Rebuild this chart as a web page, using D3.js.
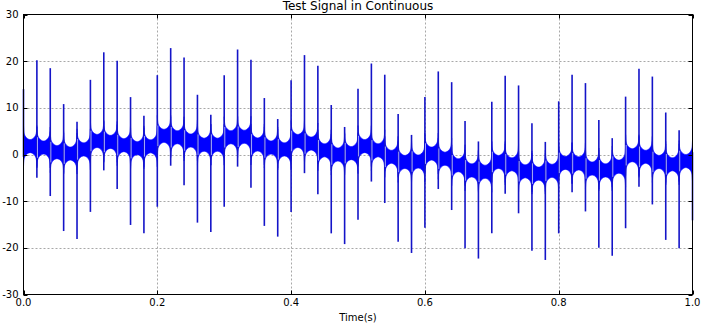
<!DOCTYPE html>
<html>
<head>
<meta charset="utf-8">
<script src="https://cdn.jsdelivr.net/npm/d3@7"></script>
<style>
  html, body { margin: 0; padding: 0; background: #fff; }
  svg { display: block; font-family: "DejaVu Sans", sans-serif; }
</style>
</head>
<body>
<svg id="chart" width="701" height="329"></svg>
<script>
// Spike instants (s), one every 20 ms
const spikeTimes = [0.00, 0.02, 0.04, 0.06, 0.08, 0.10, 0.12, 0.14, 0.16, 0.18,
  0.20, 0.22, 0.24, 0.26, 0.28, 0.30, 0.32, 0.34, 0.36, 0.38,
  0.40, 0.42, 0.44, 0.46, 0.48, 0.50, 0.52, 0.54, 0.56, 0.58,
  0.60, 0.62, 0.64, 0.66, 0.68, 0.70, 0.72, 0.74, 0.76, 0.78,
  0.80, 0.82, 0.84, 0.86, 0.88, 0.90, 0.92, 0.94, 0.96, 0.98, 1.00];

// Positive peak of each spike
const spikeHigh = [14.0, 20.2, 18.5, 10.8, 7.0, 16.0, 21.9, 20.1, 12.3, 8.3,
  17.0, 22.8, 20.8, 12.8, 8.5, 17.0, 22.5, 20.3, 12.1, 7.6,
  15.9, 21.3, 19.0, 10.6, 5.9, 14.1, 19.5, 17.1, 8.7, 4.2,
  12.3, 17.8, 15.5, 7.2, 2.8, 11.3, 16.9, 14.8, 6.7, 2.7,
  11.4, 17.1, 15.3, 7.4, 3.5, 12.4, 18.4, 16.7, 9.0, 5.2, 0.5];

// Negative peak of each spike
const spikeLow = [-0.5, -5.0, -8.9, -16.4, -18.1, -12.3, -3.4, -7.4, -15.1, -16.9,
  -11.2, -2.4, -6.6, -14.6, -16.6, -11.2, -2.6, -7.1, -15.3, -17.6,
  -12.3, -4.0, -8.5, -16.9, -19.2, -14.0, -5.8, -10.4, -18.7, -21.1,
  -15.7, -7.4, -11.9, -20.1, -22.3, -16.9, -8.4, -12.6, -20.6, -22.6,
  -16.9, -8.1, -12.2, -20.0, -21.7, -15.8, -6.9, -10.7, -18.3, -20.1, -14.1];

// Mean level of the fast oscillation between consecutive spikes
const segmentLevel = [1.8, 1.5, 0.5, 0.2, 1.1, 2.9, 2.7, 2.0, 1.35, 1.75,
  4.0, 3.7, 3.0, 2.1, 2.1, 3.7, 3.8, 2.15, 1.5, 1.1,
  2.9, 2.35, 0.9, 0.0, 0.3, 1.8, 0.9, -0.5, -1.6, -1.5,
  0.2, -0.9, -2.3, -3.4, -3.7, -1.6, -2.1, -3.6, -4.1, -3.5,
  -1.8, -1.9, -3.0, -3.4, -2.6, -0.15, -0.5, -1.6, -2.1, -1.4];

// Oscillation envelope: half amplitude mid-interval and extra swing near spikes
const bandHalfWidth = 1.4;
const bandFrac  = [0, 0.015, 0.04, 0.08, 0.14, 0.22, 0.35, 0.5, 0.65, 0.78, 0.86, 0.92, 0.96, 0.985, 1];
const bandFlare = [3.0, 2.2, 1.5, 1.05, 0.7, 0.4, 0.12, 0, 0.12, 0.4, 0.7, 1.05, 1.5, 2.2, 3.0];

const xTicks = [0.0, 0.2, 0.4, 0.6, 0.8, 1.0];
const yTicks = [-30, -20, -10, 0, 10, 20, 30];

const svg = d3.select("#chart");
const plotLeft = 23.5, plotRight = 692.5, plotTop = 14.5, plotBottom = 294.5;

const x = d3.scaleLinear().domain([0, 1]).range([plotLeft, plotRight]);
const y = d3.scaleLinear().domain([-30, 30]).range([plotBottom, plotTop]);

// grid
const grid = svg.append("g");
grid.selectAll("line.gx").data(xTicks.slice(1, -1)).enter().append("line")
  .attr("x1", d => Math.round(x(d)) + 0.5).attr("x2", d => Math.round(x(d)) + 0.5)
  .attr("y1", plotTop).attr("y2", plotBottom)
  .attr("stroke", "#a8a8a8").attr("stroke-width", 1).attr("stroke-dasharray", "2,2");
grid.selectAll("line.gy").data(yTicks.slice(1, -1)).enter().append("line")
  .attr("y1", d => Math.round(y(d)) + 0.5).attr("y2", d => Math.round(y(d)) + 0.5)
  .attr("x1", plotLeft).attr("x2", plotRight)
  .attr("stroke", "#a8a8a8").attr("stroke-width", 1).attr("stroke-dasharray", "2,2");

const plot = svg.append("g");

// fast oscillation band, one piece per inter-spike interval
const area = d3.area()
  .x(d => x(d.t))
  .y0(d => y(d.lo))
  .y1(d => y(d.hi))
  .curve(d3.curveMonotoneX);

const segments = segmentLevel.map((lvl, k) => {
  const t0 = spikeTimes[k], t1 = spikeTimes[k + 1];
  return bandFrac.map((f, i) => ({
    t: t0 + f * (t1 - t0),
    hi: lvl + bandHalfWidth + bandFlare[i],
    lo: lvl - bandHalfWidth - bandFlare[i]
  }));
});

plot.selectAll("path.band").data(segments).enter().append("path")
  .attr("class", "band")
  .attr("d", area)
  .attr("fill", "#0000ff")
  .attr("stroke", "#0000ff")
  .attr("stroke-width", 0.6);

// spikes
plot.selectAll("line.spike").data(spikeTimes).enter().append("line")
  .attr("class", "spike")
  .attr("x1", d => x(d)).attr("x2", d => x(d))
  .attr("y1", (d, i) => y(spikeHigh[i]))
  .attr("y2", (d, i) => y(spikeLow[i]))
  .attr("stroke", "#1414c8")
  .attr("stroke-width", 1.6);

// light trace where each spike crosses the band
plot.selectAll("line.gap").data(spikeTimes.slice(1, -1)).enter().append("line")
  .attr("x1", d => x(d) + 0.6).attr("x2", d => x(d) + 0.6)
  .attr("y1", (d, i) => y(segmentLevel[i + 1] + bandHalfWidth + 0.8))
  .attr("y2", (d, i) => y(segmentLevel[i + 1] - bandHalfWidth - 0.8))
  .attr("stroke", "#b4b8ff")
  .attr("stroke-width", 0.9);

// frame
svg.append("rect")
  .attr("x", plotLeft).attr("y", plotTop)
  .attr("width", plotRight - plotLeft).attr("height", plotBottom - plotTop)
  .attr("fill", "none").attr("stroke", "#000").attr("stroke-width", 1);

// inward ticks on all four sides
const tickLen = 4;
const ticks = svg.append("g").attr("stroke", "#000").attr("stroke-width", 1);
xTicks.forEach(d => {
  const px = Math.round(x(d)) + 0.5;
  ticks.append("line").attr("x1", px).attr("x2", px).attr("y1", plotBottom).attr("y2", plotBottom - tickLen);
  ticks.append("line").attr("x1", px).attr("x2", px).attr("y1", plotTop).attr("y2", plotTop + tickLen);
});
yTicks.forEach(d => {
  const py = Math.round(y(d)) + 0.5;
  ticks.append("line").attr("y1", py).attr("y2", py).attr("x1", plotLeft).attr("x2", plotLeft + tickLen);
  ticks.append("line").attr("y1", py).attr("y2", py).attr("x1", plotRight).attr("x2", plotRight - tickLen);
});

// tick labels
svg.append("g").selectAll("text").data(xTicks).enter().append("text")
  .attr("x", d => x(d)).attr("y", 306)
  .attr("text-anchor", "middle").attr("font-size", 10).attr("fill", "#000")
  .text(d => d.toFixed(1));
svg.append("g").selectAll("text").data(yTicks).enter().append("text")
  .attr("x", plotLeft - 5).attr("y", d => y(d) + 3.6)
  .attr("text-anchor", "end").attr("font-size", 10).attr("fill", "#000")
  .text(d => d);

// title and axis label
svg.append("text")
  .attr("x", (plotLeft + plotRight) / 2).attr("y", 10)
  .attr("text-anchor", "middle").attr("font-size", 12).attr("fill", "#000")
  .text("Test Signal in Continuous");
svg.append("text")
  .attr("x", (plotLeft + plotRight) / 2).attr("y", 321)
  .attr("text-anchor", "middle").attr("font-size", 10).attr("fill", "#000")
  .text("Time(s)");
</script>
</body>
</html>
